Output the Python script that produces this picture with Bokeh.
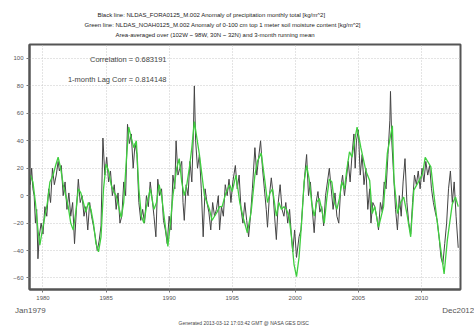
from bokeh.plotting import figure
from bokeh.models import Label, Range1d, FixedTicker, LinearAxis, Title
from bokeh.embed import file_html
from bokeh.resources import INLINE

# Black line: precipitation anomaly (decimal year, value)
black_t = [1979.0, 1979.1, 1979.2, 1979.3, 1979.4, 1979.5, 1979.6, 1979.7, 1979.85, 1980.0,
           1980.15, 1980.3, 1980.45, 1980.6, 1980.75, 1980.9, 1981.05, 1981.2, 1981.3, 1981.45,
           1981.6, 1981.75, 1981.9, 1982.05, 1982.2, 1982.35, 1982.5, 1982.65, 1982.8, 1982.95,
           1983.1, 1983.25, 1983.4, 1983.55, 1983.7, 1983.85, 1984.0, 1984.15, 1984.3, 1984.45,
           1984.6, 1984.75, 1984.9, 1985.05, 1985.2, 1985.35, 1985.5, 1985.65, 1985.8, 1985.95,
           1986.1, 1986.25, 1986.4, 1986.55, 1986.7, 1986.85, 1987.0, 1987.15, 1987.3, 1987.45,
           1987.6, 1987.75, 1987.9, 1988.05, 1988.2, 1988.35, 1988.5, 1988.65, 1988.8, 1988.95,
           1989.1, 1989.25, 1989.4, 1989.55, 1989.7, 1989.85, 1990.0, 1990.15, 1990.3, 1990.45,
           1990.55, 1990.7, 1990.85, 1991.0, 1991.1, 1991.2, 1991.35, 1991.5, 1991.65, 1991.8,
           1991.92, 1992.0, 1992.1, 1992.25, 1992.4, 1992.55, 1992.7, 1992.85, 1993.0, 1993.15,
           1993.3, 1993.45, 1993.6, 1993.75, 1993.9, 1994.0, 1994.15, 1994.3, 1994.45, 1994.6,
           1994.75, 1994.9, 1995.05, 1995.25, 1995.4, 1995.55, 1995.7, 1995.85, 1996.0, 1996.15,
           1996.3, 1996.45, 1996.6, 1996.8, 1996.95, 1997.1, 1997.25, 1997.4, 1997.55, 1997.7,
           1997.8, 1997.95, 1998.1, 1998.25, 1998.4, 1998.5, 1998.65, 1998.8, 1998.95, 1999.1,
           1999.25, 1999.4, 1999.55, 1999.7, 1999.8, 1999.95, 2000.1, 2000.3, 2000.45, 2000.6,
           2000.75, 2000.9, 2001.05, 2001.2, 2001.35, 2001.5, 2001.65, 2001.8, 2001.95, 2002.1,
           2002.25, 2002.4, 2002.55, 2002.7, 2002.85, 2003.0, 2003.15, 2003.3, 2003.45, 2003.6,
           2003.75, 2003.9, 2004.05, 2004.2, 2004.35, 2004.5, 2004.65, 2004.75, 2004.85, 2005.0,
           2005.15, 2005.3, 2005.45, 2005.6, 2005.75, 2005.9, 2006.0, 2006.15, 2006.3, 2006.45,
           2006.6, 2006.75, 2006.9, 2007.05, 2007.2, 2007.35, 2007.5, 2007.55, 2007.65, 2007.8,
           2007.95, 2008.1, 2008.25, 2008.4, 2008.55, 2008.7, 2008.85, 2009.0, 2009.15, 2009.3,
           2009.45, 2009.6, 2009.75, 2009.9, 2010.05, 2010.2, 2010.35, 2010.5, 2010.65, 2010.8,
           2010.95, 2011.1, 2011.25, 2011.4, 2011.55, 2011.7, 2011.85, 2012.0, 2012.15, 2012.3,
           2012.45, 2012.6, 2012.75, 2012.92]
black_v = [8, 20, 5, 0, -20, -10, -46, -30, -20, -28,
           -8, -15, 5, -5, 20, 8, 15, 25, 18, 22,
           0, 10, -10, 2, -15, -5, -35, -10, 12, -5,
           0, -15, -8, -25, -5, -15, -22, -30, -40, -33,
           -22, 42, 15, 28, 10, 18, 0, 8, -10, 2,
           -20, -15, 10, 0, 52, 38, 45, 20, 38, 30,
           -5, -18, -10, -20, 0, -8, 10, -2, -15, -30,
           12, 0, 5, -18, -25, -35, -15, -25, 15, 5,
           40, 15, 20, 25, -5, -18, 8, 0, 25, 10,
           45, 80, 40, 20, 30, 5, -30, 5, -5, -12,
           -25, -5, -15, -10, 0, -25, -8, -15, 8, 0,
           12, -5, 10, 22, 5, 15, -10, -20, -5, -18,
           -30, -15, 5, 35, 15, 28, 40, 20, 5, -10,
           -23, 0, 13, 0, -20, -32, -5, 8, -10, -15,
           -5, -20, -10, -30, -41, -25, -45, -30, -25, -5,
           15, 30, 0, 10, -10, -27, -5, 3, -12, -8,
           -22, 0, 10, 20, 5, -10, 2, -15, -20, 5,
           15, 0, 12, 25, 10, 30, 45, 20, 40, 48,
           15, 30, 8, 20, -10, 5, -20, -5, -8, -15,
           -25, -5, -12, 10, 5, 30, 55, 76, 40, 15,
           -10, -25, 0, -15, 10, 27, -5, -20, -28, -5,
           15, 8, 18, 5, 20, 10, 25, 15, 22, 5,
           -5, -12, -18, -30, -45, -50, -35, -20, 5, 18,
           -5, 10, -15, -38]

# Green line: soil moisture anomaly, 3-month running mean
green_t = [1979.0, 1979.2, 1979.4, 1979.6, 1979.75, 1979.95, 1980.15, 1980.35, 1980.55, 1980.8,
           1981.0, 1981.2, 1981.4, 1981.6, 1981.8, 1982.0, 1982.2, 1982.4, 1982.6, 1982.8,
           1983.0, 1983.2, 1983.4, 1983.6, 1983.8, 1984.0, 1984.2, 1984.4, 1984.6, 1984.8,
           1985.0, 1985.2, 1985.4, 1985.6, 1985.8, 1986.0, 1986.2, 1986.4, 1986.6, 1986.8,
           1987.0, 1987.2, 1987.4, 1987.6, 1987.8, 1988.0, 1988.2, 1988.5, 1988.8, 1989.0,
           1989.2, 1989.4, 1989.6, 1989.9, 1990.1, 1990.3, 1990.6, 1990.8, 1991.0, 1991.2,
           1991.4, 1991.6, 1991.8, 1992.0, 1992.2, 1992.4, 1992.6, 1992.8, 1993.0, 1993.2,
           1993.4, 1993.6, 1993.8, 1994.0, 1994.2, 1994.5, 1994.8, 1995.0, 1995.3, 1995.6,
           1995.9, 1996.2, 1996.5, 1996.8, 1997.0, 1997.3, 1997.6, 1997.8, 1998.0, 1998.2,
           1998.5, 1998.7, 1998.9, 1999.1, 1999.3, 1999.5, 1999.7, 1999.9, 2000.1, 2000.3,
           2000.5, 2000.7, 2000.9, 2001.1, 2001.3, 2001.5, 2001.7, 2001.9, 2002.1, 2002.3,
           2002.5, 2002.7, 2002.9, 2003.1, 2003.3, 2003.5, 2003.7, 2003.9, 2004.1, 2004.3,
           2004.5, 2004.7, 2004.9, 2005.2, 2005.6, 2005.9, 2006.1, 2006.3, 2006.6, 2007.0,
           2007.3, 2007.7, 2007.83, 2008.1, 2008.35, 2008.6, 2008.85, 2009.15, 2009.4, 2009.7,
           2010.1, 2010.3, 2010.75, 2011.0, 2011.4, 2011.8, 2012.06, 2012.45, 2012.7, 2012.92]
green_v = [15, 10, -5, -25, -36, -25, -15, -5, 10, 15,
           22, 28, 20, 8, 0, -8, -20, -25, -12, 5,
           2, -5, -12, -5, -10, -20, -35, -41, -30, 5,
           23, 18, 8, 3, 0, -8, -16, -5, 25, 50,
           42, 35, 40, 5, -15, -20, -8, 5, -10, -5,
           8, 0, -15, -37, -20, 0, 20, 27, 10, 0,
           8, 20, 35, 54, 42, 30, 15, 0, -5, -10,
           -18, -15, -12, -8, -8, 2, 8, 3, 15, -5,
           -17, -27, -12, 15, 25, 31, 10, -5, 2, 5,
           -15, -5, -10, -8, -10, -15, -30, -50, -59, -45,
           -20, 10, 22, 12, -5, -15, -5, -2, -10, -20,
           -2, 12, 10, -5, -10, -2, 10, 5, 20, 32,
           28, 40, 50, 35, 18, 11, -13, -8, -23, -8,
           31, 51, 11, -13, -5, -1, -13, -30, 4, 9,
           16, 28, 21, 0, -30, -57, -32, -6, -1, -8]

x_ticks = [1980, 1985, 1990, 1995, 2000, 2005, 2010]
y_ticks = [-60, -40, -20, 0, 20, 40, 60, 80, 100]
period_ticks = [1979.0, 2012.92]
period_labels = ["Jan1979", "Dec2012"]

title_lines = [
    "Black line: NLDAS_FORA0125_M.002 Anomaly of precipitation monthly total [kg/m^2]",
    "Green line: NLDAS_NOAH0125_M.002 Anomaly of 0-100 cm top 1 meter soil moisture content [kg/m^2]",
    "Area-averaged over (102W ~ 98W, 30N ~ 32N) and 3-month running mean",
]
title_offsets = [68, 55, 86]
corr_lines = ["Correlation = 0.683191", "1-month Lag Corr = 0.814148"]
footer = "Generated 2013-03-12 17:03:42 GMT @ NASA GES DISC"

FONT = "Liberation Sans"

p = figure(width=474, height=329, output_backend="svg", toolbar_location=None,
           title_location=None,
           x_range=Range1d(1978.93, 2013.1), y_range=Range1d(-68.4, 110.2),
           min_border_left=29, min_border_right=14, min_border_top=44, min_border_bottom=40)
p.background_fill_color = "white"
p.border_fill_color = "white"
p.outline_line_color = "#555555"
p.outline_line_width = 2

p.line(black_t, black_v, line_color="#444444", line_width=1)
p.line(green_t, green_v, line_color="#3fcf3f", line_width=1.3)

for ax in (p.xaxis[0], p.yaxis[0]):
    ax.axis_line_color = "#555555"
    ax.axis_line_width = 2
    ax.major_tick_line_color = "#777777"
    ax.major_tick_out = 3
    ax.major_tick_in = 0
    ax.minor_tick_line_color = None
    ax.major_label_text_font = FONT
    ax.major_label_text_font_size = "6px"
    ax.major_label_text_color = "#555555"
    ax.major_label_standoff = 3
p.xaxis[0].ticker = FixedTicker(ticks=x_ticks)
p.yaxis[0].ticker = FixedTicker(ticks=y_ticks)

# period start/end labels as a second bottom axis
period_axis = LinearAxis(ticker=FixedTicker(ticks=period_ticks),
                         major_label_overrides=dict(zip(period_ticks, period_labels)))
period_axis.axis_line_color = None
period_axis.major_tick_line_color = None
period_axis.minor_tick_line_color = None
period_axis.major_tick_out = 0
period_axis.major_tick_in = 0
period_axis.major_label_standoff = 3
period_axis.major_label_text_font = FONT
period_axis.major_label_text_font_size = "8px"
period_axis.major_label_text_color = "#555555"
p.add_layout(period_axis, "below")

p.add_layout(Title(text=footer, align="left", offset=149, standoff=1,
                   text_font=FONT, text_font_size="5px", text_font_style="normal",
                   text_color="#444444"), "below")

p.xgrid.ticker = FixedTicker(ticks=x_ticks)
p.ygrid.ticker = FixedTicker(ticks=y_ticks)
for g in (p.xgrid[0], p.ygrid[0]):
    g.grid_line_color = "#c8c8c8"
    g.grid_line_dash = "1 2"
    g.grid_line_width = 1

# invisible spacer between the frame and the title block (one hidden tick)
spacer = LinearAxis(ticker=FixedTicker(ticks=[x_ticks[3]]),
                    major_label_overrides={x_ticks[3]: ""})
spacer.axis_line_color = None
spacer.major_tick_line_color = None
spacer.minor_tick_line_color = None
spacer.major_tick_out = 6
spacer.major_tick_in = 0
spacer.major_label_standoff = 0
spacer.major_label_text_font_size = "1px"
p.add_layout(spacer, "above")

# three-line title, nearest line added first
for line, off in reversed(list(zip(title_lines, title_offsets))):
    p.add_layout(Title(text=line, align="left", offset=off, standoff=2,
                       text_font=FONT, text_font_size="6px", text_font_style="normal",
                       text_color="#222222"), "above")

for i, txt in enumerate(corr_lines):
    p.add_layout(Label(x=137, y=230 - 20 * i, x_units="screen", y_units="screen", text=txt,
                       text_font=FONT, text_font_size="7.5px", text_color="#444444",
                       text_align="right", text_baseline="middle"))

open("out.html", "w").write(file_html(p, INLINE))
